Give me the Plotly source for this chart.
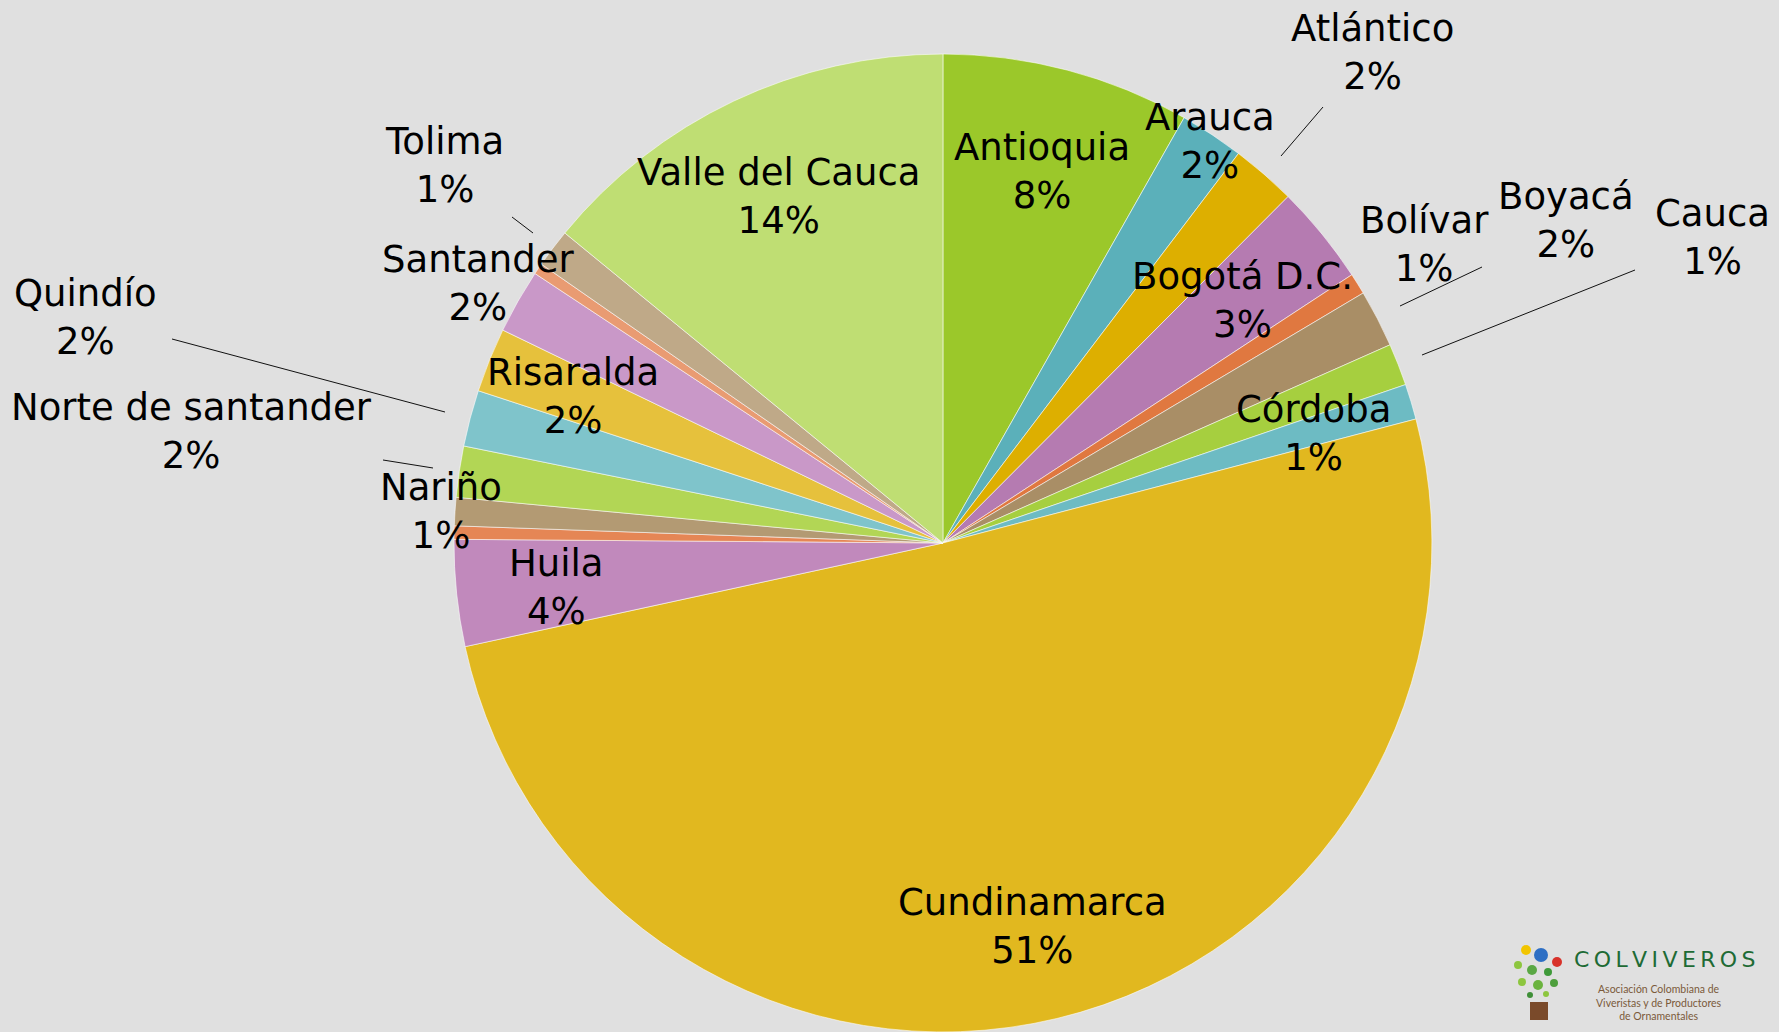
import plotly.graph_objects as go

# participación de viveros por departamento (%)
departamentos = ['Antioquia', 'Arauca', 'Atlántico', 'Bogotá D.C.', 'Bolívar', 'Boyacá',
                 'Cauca', 'Córdoba', 'Cundinamarca', 'Huila', 'Meta', 'Nariño',
                 'Norte de santander', 'Quindío', 'Risaralda', 'Santander', 'Sucre',
                 'Tolima', 'Valle del Cauca']
porcentajes = [8.21, 2.12, 2.14, 3.29, 0.70, 1.90,
               1.39, 1.17, 50.68, 3.52, 0.44, 0.93,
               1.69, 1.86, 2.13, 2.12, 0.37,
               1.27, 14.07]
sin_etiqueta = ['Meta', 'Sucre']  # rebanadas sin rótulo en la original

colores = ['#9BC82A', '#5BB0BA', '#DDAF00', '#B57BB1', '#E07840', '#A98E66',
           '#A6CF3F', '#6DBBC3', '#E1B81F', '#C189BC', '#E58655', '#B39A73',
           '#B2D655', '#7FC4CB', '#E6C13C', '#C998C8', '#E99B72',
           '#BFA988', '#BFDE73']

W, H = 1779, 1032

# centro de cada rótulo (px)
pos_rotulos = {
	'Antioquia': (1042, 172), 'Arauca': (1210, 141), 'Atlántico': (1372, 53),
	'Bogotá D.C.': (1242, 300), 'Bolívar': (1424, 245), 'Boyacá': (1566, 221),
	'Cauca': (1712, 238), 'Córdoba': (1313, 433), 'Cundinamarca': (1032, 926),
	'Huila': (556, 587), 'Nariño': (441, 511), 'Norte de santander': (191, 431),
	'Quindío': (85, 317), 'Risaralda': (573, 396), 'Santander': (478, 283),
	'Tolima': (444, 165), 'Valle del Cauca': (778, 196),
}

# líneas guía (px)
guias = [
	((1323, 107), (1281, 156)),
	((1482, 267), (1400, 306)),
	((1635, 270), (1422, 355)),
	((512, 217), (533, 233)),
	((172, 339), (445, 412)),
	((383, 460), (433, 468)),
]

def pp(x, y):
	return x / W, 1 - y / H

fig = go.Figure()
fig.add_trace(go.Pie(
	labels = departamentos,
	values = porcentajes,
	sort = False,
	direction = 'clockwise',
	rotation = 0,
	textinfo = 'none',
	marker = dict(colors = colores, line = dict(color = 'rgba(255,255,255,0.55)', width = 1)),
	domain = dict(x = [0.2552, 0.8049], y = [0.0, 0.9477]),
	showlegend = False,
))

total = sum(porcentajes)
anotaciones = []
for dep, val in zip(departamentos, porcentajes):
	if dep in sin_etiqueta:
		continue
	x, y = pp(*pos_rotulos[dep])
	anotaciones.append(dict(
		x = x, y = y, xref = 'paper', yref = 'paper',
		text = f'{dep}<br>{int(val / total * 100 + 0.5)}%',
		showarrow = False, xanchor = 'center', yanchor = 'middle',
		font = dict(family = 'DejaVu Sans', size = 37, color = '#000000'),
	))

# logo
x, y = pp(1665, 959)
anotaciones.append(dict(
	x = x, y = y, xref = 'paper', yref = 'paper', showarrow = False,
	xanchor = 'center', yanchor = 'middle',
	text = '\u2009'.join('COLVIVEROS'),
	font = dict(family = 'DejaVu Sans', size = 22, color = '#1E6B35'),
))
x, y = pp(1659, 1002)
anotaciones.append(dict(
	x = x, y = y, xref = 'paper', yref = 'paper', showarrow = False,
	xanchor = 'center', yanchor = 'middle',
	text = 'Asociación Colombiana de<br>Viveristas y de Productores<br>de Ornamentales',
	font = dict(family = 'Lato', size = 10.5, color = '#7B5A3A'),
))

formas = []
for (x0, y0), (x1, y1) in guias:
	a, b = pp(x0, y0)
	c, d = pp(x1, y1)
	formas.append(dict(type = 'line', xref = 'paper', yref = 'paper',
		x0 = a, y0 = b, x1 = c, y1 = d, line = dict(color = '#111111', width = 1)))

def circulo(cx, cy, r, color):
	a, b = pp(cx - r, cy - r)
	c, d = pp(cx + r, cy + r)
	formas.append(dict(type = 'circle', xref = 'paper', yref = 'paper',
		x0 = a, y0 = b, x1 = c, y1 = d, fillcolor = color, line = dict(width = 0)))

# icono del logo (aproximado)
for cx, cy, r, col in [(1526, 950, 5, '#F2C500'), (1541, 955, 7, '#2E6FC4'), (1557, 962, 5, '#D8322A'),
		(1518, 965, 4, '#8DC63F'), (1532, 970, 5, '#5AA844'), (1548, 972, 4, '#3F9A3A'),
		(1522, 982, 4, '#8DC63F'), (1538, 985, 5, '#6BB33F'), (1554, 983, 4, '#4E9F3D'),
		(1530, 995, 3, '#3F8F38'), (1546, 994, 3, '#8DC63F')]:
	circulo(cx, cy, r, col)
a, b = pp(1530, 1002)
c, d = pp(1548, 1020)
formas.append(dict(type = 'rect', xref = 'paper', yref = 'paper',
	x0 = a, y0 = b, x1 = c, y1 = d, fillcolor = '#7A4A2A', line = dict(width = 0)))

fig.update_layout(
	width = W, height = H,
	margin = dict(l = 0, r = 0, t = 0, b = 0),
	paper_bgcolor = '#E0E0E0',
	plot_bgcolor = '#E0E0E0',
	annotations = anotaciones,
	shapes = formas,
)
#NOTE: quitar el margen del body para que la figura ocupe la ventana
fig.write_html('out.html', config = {'displayModeBar': False},
	post_script = "document.body.style.margin='0';document.body.style.overflow='hidden';")
